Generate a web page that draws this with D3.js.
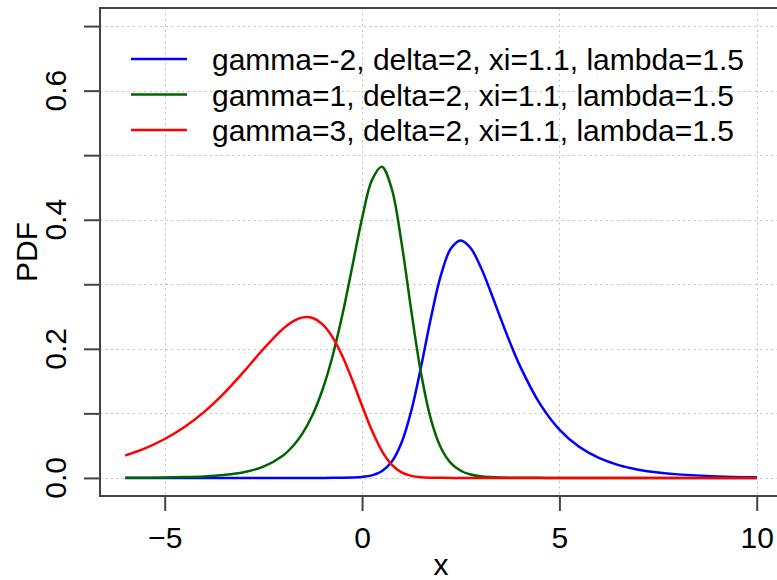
<!DOCTYPE html>
<html>
<head>
<meta charset="utf-8">
<script src="https://cdn.jsdelivr.net/npm/d3@7"></script>
<style>
  html, body { margin: 0; padding: 0; background: #fff; }
  svg { display: block; font-family: "Liberation Sans", Arial, sans-serif; }
</style>
</head>
<body>
<svg id="chart" width="777" height="580"></svg>
<script>
// ---- data ----
const xValues = [-6, -5.5, -5, -4.5, -4, -3.5, -3, -2.5, -2, -1.75, -1.5, -1.25, -1, -0.75, -0.5, -0.25,
  0, 0.25, 0.5, 0.75, 1, 1.25, 1.5, 1.75, 2, 2.25, 2.5, 2.75, 3, 3.25, 3.5, 3.75, 4,
  4.5, 5, 5.5, 6, 6.5, 7, 7.5, 8, 9, 10];

const pdfGammaMinus2 = [0, 0, 0, 0, 0, 0, 0, 0, 0, 0, 0, 0.00001, 0.00003, 0.00008, 0.00022, 0.00057,
  0.0015, 0.0040, 0.0104, 0.0250, 0.0546, 0.1047, 0.1737, 0.2495, 0.3144, 0.3553, 0.3679, 0.3561, 0.3274, 0.2897, 0.2490, 0.2096, 0.1736,
  0.1154, 0.0749, 0.0482, 0.0309, 0.0198, 0.0128, 0.0083, 0.0055, 0.0024, 0.0011];

const pdfGamma1 = [0.0002, 0.0004, 0.0007, 0.0013, 0.0024, 0.0046, 0.0088, 0.0175, 0.0349, 0.0494, 0.0698, 0.0982, 0.1370, 0.1881, 0.2523, 0.3267,
  0.4021, 0.4613, 0.4821, 0.4483, 0.3645, 0.2578, 0.1601, 0.0896, 0.0464, 0.0230, 0.0111, 0.0053, 0.0026, 0.0013, 0.0006, 0.0003, 0.0002,
  0.0001, 0, 0, 0, 0, 0, 0, 0, 0, 0];

const pdfGamma3 = [0.0348, 0.0458, 0.0603, 0.0788, 0.1023, 0.1310, 0.1643, 0.1997, 0.2313, 0.2426, 0.2487, 0.2477, 0.2379, 0.2182, 0.1890, 0.1521,
  0.1117, 0.0733, 0.0420, 0.0207, 0.0087, 0.0032, 0.0010, 0.0003, 0.0001, 0, 0, 0, 0, 0, 0, 0, 0,
  0, 0, 0, 0, 0, 0, 0, 0, 0, 0];

const seriesNames = [
  "gamma=-2, delta=2, xi=1.1, lambda=1.5",
  "gamma=1, delta=2, xi=1.1, lambda=1.5",
  "gamma=3, delta=2, xi=1.1, lambda=1.5"
];
const seriesColors = ["#0000FF", "#006400", "#FF0000"];

const xTicks = [-5, 0, 5, 10];
const yTicks = [0, 0.1, 0.2, 0.3, 0.4, 0.5, 0.6, 0.7];
const yLabelTicks = [0, 0.2, 0.4, 0.6];
const xDomain = [-6.64, 10.64];
const yDomain = [-0.028, 0.728];

// ---- layout ----
const plotLeft = 100, plotRight = 782, plotTop = 8, plotBottom = 496;
const fontSize = 30;

const svg = d3.select("#chart");
const x = d3.scaleLinear().domain(xDomain).range([plotLeft, plotRight]);
const y = d3.scaleLinear().domain(yDomain).range([plotBottom, plotTop]);

svg.append("defs").append("clipPath").attr("id", "plotclip")
  .append("rect").attr("x", plotLeft).attr("y", plotTop)
  .attr("width", plotRight - plotLeft).attr("height", plotBottom - plotTop);

// grid
const grid = svg.append("g").attr("stroke", "#c0c0c0").attr("stroke-width", 1).attr("stroke-dasharray", "2,3.5");
grid.selectAll("line.gx").data(xTicks).join("line")
  .attr("x1", d => Math.round(x(d)) + 0.5).attr("x2", d => Math.round(x(d)) + 0.5)
  .attr("y1", plotTop).attr("y2", plotBottom);
grid.selectAll("line.gy").data(yTicks).join("line")
  .attr("y1", d => Math.round(y(d)) + 0.5).attr("y2", d => Math.round(y(d)) + 0.5)
  .attr("x1", plotLeft).attr("x2", plotRight);

// curves
const series = [pdfGammaMinus2, pdfGamma1, pdfGamma3];
const line = d3.line()
  .x(d => x(d[0]))
  .y(d => y(d[1]))
  .curve(d3.curveCatmullRom.alpha(0.5));
const curves = svg.append("g").attr("clip-path", "url(#plotclip)");
series.forEach((vals, i) => {
  curves.append("path")
    .datum(xValues.map((xv, j) => [xv, vals[j]]))
    .attr("fill", "none")
    .attr("stroke", seriesColors[i])
    .attr("stroke-width", 2.5)
    .attr("stroke-linejoin", "round")
    .attr("d", line);
});

// axes
const xAxis = d3.axisBottom(x).tickValues(xTicks).tickSize(15).tickFormat(d3.format("d"));
const gx = svg.append("g").attr("transform", `translate(0,${plotBottom})`).call(xAxis);
gx.select(".domain").remove();
gx.selectAll(".tick line").attr("stroke", "#444").attr("stroke-width", 2);
gx.selectAll(".tick text").attr("font-size", fontSize).attr("fill", "#000")
  .attr("font-family", "Liberation Sans, Arial, sans-serif")
  .attr("dy", null).attr("y", 52);

const yAxis = d3.axisLeft(y).tickValues(yTicks).tickSize(16).tickFormat("");
const gy = svg.append("g").attr("transform", `translate(${plotLeft},0)`).call(yAxis);
gy.select(".domain").remove();
gy.selectAll(".tick line").attr("stroke", "#444").attr("stroke-width", 2);

svg.append("g").selectAll("text").data(yLabelTicks).join("text")
  .attr("transform", d => `translate(66,${y(d)}) rotate(-90)`)
  .attr("text-anchor", "middle")
  .attr("font-size", fontSize)
  .attr("fill", "#000")
  .text(d => d3.format(".1f")(d));

// box
svg.append("rect")
  .attr("x", plotLeft).attr("y", plotTop)
  .attr("width", plotRight - plotLeft).attr("height", plotBottom - plotTop)
  .attr("fill", "none").attr("stroke", "#444").attr("stroke-width", 2);

// axis titles
svg.append("text")
  .attr("x", (plotLeft + plotRight) / 2).attr("y", 575)
  .attr("text-anchor", "middle").attr("font-size", fontSize).attr("fill", "#000")
  .text("x");
svg.append("text")
  .attr("transform", `translate(37,${(plotTop + plotBottom) / 2}) rotate(-90)`)
  .attr("text-anchor", "middle").attr("font-size", fontSize).attr("fill", "#000")
  .text("PDF");

// legend
const legendY = [59, 94.5, 130];
const lg = svg.append("g");
seriesNames.forEach((name, i) => {
  lg.append("line")
    .attr("x1", 131).attr("x2", 187)
    .attr("y1", legendY[i]).attr("y2", legendY[i])
    .attr("stroke", seriesColors[i]).attr("stroke-width", 2.5);
  lg.append("text")
    .attr("x", 212).attr("y", legendY[i] + 11)
    .attr("font-size", fontSize).attr("fill", "#000")
    .text(name);
});
</script>
</body>
</html>
